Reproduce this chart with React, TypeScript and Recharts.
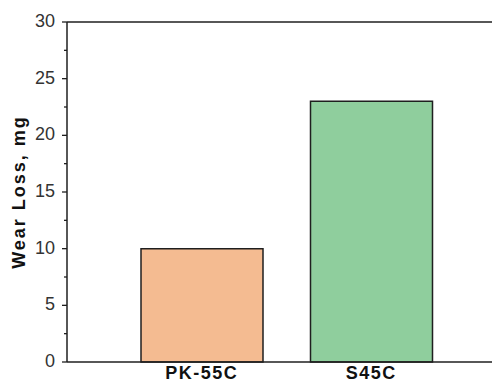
import React from "react";
import { BarChart, Bar, XAxis, YAxis, Cell, ReferenceLine } from "recharts";

// Wear loss per steel grade
const grades: string[] = ["PK-55C", "S45C"];
const wearLoss: number[] = [10, 23];

// Axis ticks: labelled majors every 5 mg, unlabelled minors in between
const majorTicks: number[] = [0, 5, 10, 15, 20, 25, 30];
const minorTicks: number[] = [2.5, 7.5, 12.5, 17.5, 22.5, 27.5];

const barColors = ["#F4BB91", "#8FCE9D"];
const INK = "#1f1f1f";
const FONT = "'Liberation Sans', Arial, Helvetica, sans-serif";

const data = grades.map((g, i) => ({ grade: g, loss: wearLoss[i] }));
const allTicks = [...majorTicks, ...minorTicks].sort((a, b) => a - b);

const YTick = (props: any) => {
  const { x, y, payload } = props;
  const v: number = payload.value;
  const major = majorTicks.includes(v);
  return (
    <g>
      <line
        x1={major ? x - 5 : x - 3}
        x2={x}
        y1={y}
        y2={y}
        stroke={INK}
        strokeWidth={1.3}
      />
      {major && (
        <text
          x={x - 12}
          y={y - 1.5}
          dy="0.355em"
          textAnchor="end"
          fontFamily={FONT}
          fontSize={18}
          fill="#333"
        >
          {v}
        </text>
      )}
    </g>
  );
};

const YTitle = (props: any) => {
  const { viewBox } = props;
  const cx = viewBox.x + 11;
  const cy = viewBox.y + viewBox.height / 2;
  return (
    <text
      x={cx}
      y={cy}
      transform={`rotate(-90, ${cx}, ${cy})`}
      textAnchor="middle"
      dominantBaseline="central"
      fontFamily={FONT}
      fontSize={18}
      fontWeight="bold"
      letterSpacing={2}
      fill="#111"
    >
      Wear Loss, mg
    </text>
  );
};

export default function App() {
  return (
    <BarChart
      width={492}
      height={377}
      data={data}
      margin={{ top: 14, right: 0, left: 0, bottom: 0 }}
      style={{ overflow: "visible" }}
    >
      <XAxis
        dataKey="grade"
        height={23}
        padding={{ left: 50, right: 44 }}
        axisLine={{ stroke: INK, strokeWidth: 1.5 }}
        tickLine={false}
        tickSize={0}
        tickMargin={4}
        tick={{
          fill: "#111",
          fontSize: 18,
          fontWeight: "bold",
          fontFamily: FONT,
          letterSpacing: 1.5,
        }}
      />
      <YAxis
        width={59}
        domain={[0, 30]}
        ticks={allTicks}
        interval={0}
        tickSize={0}
        tickMargin={0}
        tickLine={false}
        axisLine={{ stroke: INK, strokeWidth: 1.5 }}
        tick={<YTick />}
        label={{ content: <YTitle /> }}
      />
      <ReferenceLine y={30} stroke={INK} strokeWidth={1.5} />
      <Bar
        dataKey="loss"
        barSize={122}
        stroke={INK}
        strokeWidth={1.5}
        isAnimationActive={false}
      >
        {data.map((d, i) => (
          <Cell key={d.grade} fill={barColors[i]} />
        ))}
      </Bar>
    </BarChart>
  );
}
